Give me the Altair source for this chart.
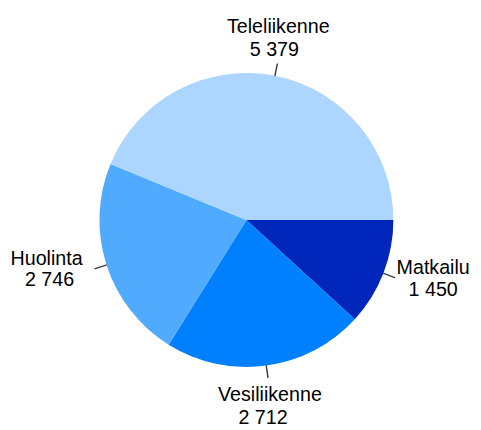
import math
import altair as alt
import pandas as pd

# Data (clockwise order starting at 3 o'clock)
categories = ["Matkailu", "Vesiliikenne", "Huolinta", "Teleliikenne"]
values = [1450, 2712, 2746, 5379]
colors = ["#0026BB", "#0080FF", "#50ABFF", "#ACD6FF"]

total = sum(values)
value_text = [f"{v:,}".replace(",", " ") for v in values]
df = pd.DataFrame({
    "category": categories,
    "value": values,
    "ord": list(range(len(categories))),
    "num": value_text,
})

theta_scale = alt.Scale(domain=[0, total], range=[math.pi / 2, math.pi / 2 + 2 * math.pi])
CX, CY = 242.5, 212
R = 149.5
FONT = "Arial, Liberation Sans, sans-serif"

base = alt.Chart(df).transform_window(
    cum="sum(value)", sort=[alt.SortField("ord")], frame=[None, 0]
).transform_calculate(
    start="datum.cum - datum.value",
    mid="datum.cum - datum.value / 2",
    la="datum.cum - datum.value / 2 - 4",
    lb="datum.cum - datum.value / 2 + 4",
)

pie = base.mark_arc(radius=R, strokeWidth=0).encode(
    theta=alt.Theta("start:Q", scale=theta_scale, stack=None),
    theta2=alt.Theta2("cum:Q"),
    color=alt.Color("category:N", scale=alt.Scale(domain=categories, range=colors), legend=None),
    x=alt.value(CX),
    y=alt.value(CY),
)

leaders = base.mark_arc(radius=162, radius2=R, color="#111111", stroke="#111111", strokeWidth=0.5).encode(
    theta=alt.Theta("la:Q", scale=theta_scale, stack=None),
    theta2=alt.Theta2("lb:Q"),
    x=alt.value(CX),
    y=alt.value(CY),
)

# (category, name dx, name dy, value dx, value dy): offsets from the end of the leader line
label_specs = [
    ("Teleliikenne", 1, -31, -3, -8),
    ("Huolinta", -49, -4, -46, 18),
    ("Matkailu", 39, -4, 39, 19),
    ("Vesiliikenne", 2, 24, -5, 47),
]

texts = []
for cat, ndx, ndy, vdx, vdy in label_specs:
    for field, dx, dy in (("category", ndx, ndy), ("num", vdx, vdy)):
        texts.append(
            base.transform_filter(alt.datum.category == cat).mark_text(
                align="center", baseline="alphabetic", radius=162, dx=dx, dy=dy,
                fontSize=20, font=FONT, color="black",
            ).encode(
                theta=alt.Theta("mid:Q", scale=theta_scale, stack=None),
                text=alt.Text(f"{field}:N"),
                x=alt.value(CX),
                y=alt.value(CY),
            )
        )

chart = alt.layer(pie, leaders, *texts).properties(
    width=473, height=422, padding=0, autosize="none", background="white"
).configure_view(strokeWidth=0)

chart.save("out.html", embed_options={"renderer": "svg", "actions": False})
